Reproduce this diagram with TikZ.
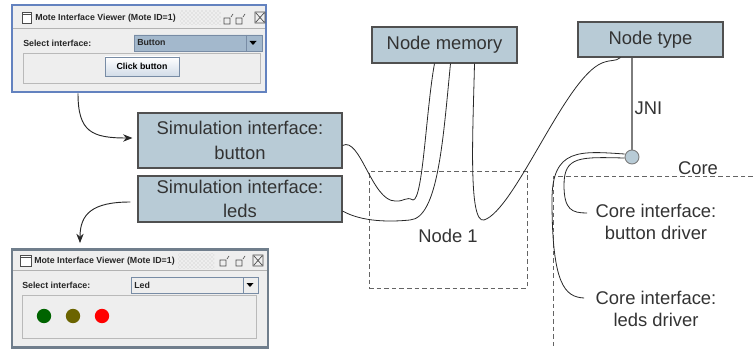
\documentclass[tikz,border=0pt]{standalone}
\usepackage{fontspec}
\setmainfont{Liberation Sans}
\usepackage{tikz}
\usetikzlibrary{positioning, calc, patterns, arrows.meta}

\definecolor{boxfill}{RGB}{184,203,214}
\definecolor{boxline}{RGB}{80,80,80}
\definecolor{labeltext}{RGB}{51,51,51}
\definecolor{wirecol}{RGB}{40,40,40}
\definecolor{dashcol}{RGB}{100,100,100}
\definecolor{jnicol}{RGB}{125,125,125}
\definecolor{winblue}{RGB}{99,130,191}
\definecolor{wingray}{RGB}{112,126,140}
\definecolor{winbg}{RGB}{238,238,238}
\definecolor{combofill}{RGB}{163,184,204}
\definecolor{comboline}{RGB}{120,140,165}
\definecolor{panelline}{RGB}{185,185,185}
\definecolor{btnbot}{RGB}{210,220,232}
\definecolor{ledgreen}{RGB}{0,100,0}
\definecolor{ledolive}{RGB}{107,100,0}
\definecolor{ledred}{RGB}{255,0,0}

\begin{document}
\begin{tikzpicture}[x=0.75pt, y=-0.75pt,
  box/.style={draw=boxline, fill=boxfill, line width=0.8pt, align=center, text=labeltext, inner sep=0pt, font=\fontsize{13.8}{18.5}\selectfont},
  lbl/.style={align=center, text=labeltext, inner sep=1pt, font=\fontsize{13.8}{16}\selectfont},
  wire/.style={draw=wirecol, line width=0.6pt},
  link/.style={draw=wirecol, line width=0.7pt, -{Stealth[length=7pt,width=5.5pt]}},
  region/.style={draw=dashcol, line width=0.75pt, dash pattern=on 3.5pt off 2.2pt},
  window/.style={line width=2.2pt, fill=winbg, inner sep=0pt},
  wintext/.style={font=\fontsize{6.6}{7}\selectfont\bfseries, text=black!85, inner sep=0pt, anchor=west},
  winicon/.style={draw=black!70, line width=0.5pt}]

\useasboundingbox (0,0) rectangle (753,349);

%// model side
\node[box, minimum width=153pt, minimum height=41.25pt] (simbtn) at (240,140.5) {Simulation interface:\\button};
\node[box, minimum width=153pt, minimum height=34.5pt] (simled) at (240,199) {Simulation interface:\\leds};
\node[box, minimum width=108.75pt, minimum height=27pt] (mem) at (444.5,45) {Node memory};
\node[box, minimum width=108.75pt, minimum height=26.25pt] (ntype) at (650.5,39.5) {Node type};

\node[region, minimum width=118.5pt, minimum height=87pt] (node1) at (448,230) {};
\node[lbl] (node1lbl) at (448,236) {Node 1};

%// core side
\coordinate (coreleft) at (553,177);
\draw[region] (753,177) -- (coreleft) -- (553,349);
\node[lbl] (corelbl) at (698,168) {Core};

\node[circle, draw=jnicol, fill=boxfill, minimum size=10.5pt, inner sep=0pt, line width=0.7pt] (jni) at (632,157) {};
\draw[jnicol, line width=1pt] (ntype.south -| jni) -- (jni);
\node[lbl, anchor=west] (jnilbl) at (633,108) {JNI};

\node[lbl] (bdrv) at (656,222) {Core interface:\\button driver};
\node[lbl] (ldrv) at (656,309) {Core interface:\\leds driver};

%// wires
\draw[wire] ($(simbtn.east)+(0,5)$) .. controls (360,136) and (372,201) .. (395,201)
  .. controls (404,202) and (406,196) .. (413,200)
  .. controls (423,200) and (426,110) .. ($(mem.south)+(-10,0)$);
\draw[wire] ($(simled.east)+(0,12)$) .. controls (362,222) and (390,222) .. (410,220)
  .. controls (438,218) and (443,140) .. ($(mem.south)+(6,0)$);
\draw[wire] ($(mem.south)+(30,0)$) .. controls (473,130) and (468,224) .. (484,220)
  .. controls (515,210) and (565,78) .. (602,63)
  .. controls (612,59) and (615,62) .. ($(ntype.south)+(-30,0)$);
\draw[wire] ($(jni.west)+(0,1)$) .. controls (580,157) and (564,156) .. (564,185)
  .. controls (564,210) and (572,213) .. ($(bdrv.west)+(-7,-9)$);
\draw[wire] ($(jni.west)+(0,-3)$) .. controls (580,151) and (552,148) .. (552,200)
  .. controls (552,285) and (565,297) .. ($(ldrv.west)+(-10,-11)$);

%// window with the button
\node[window, draw=winblue, minimum width=190.5pt, minimum height=65.25pt] (winA) at (139,48.5) {};
\draw[black!30, line width=0.5pt] (13,28.5) -- (265,28.5);
\draw[winicon, fill=white] (22,12) rectangle (31,23);
\draw[winicon] (22,14) -- (31,14);
\node[wintext] (titleA) at (35,18) {Mote Interface Viewer (Mote ID=1)};
\fill[pattern=crosshatch dots, pattern color=black!25] (180,11) rectangle (221,25);
\foreach \x in {224,236}
  \draw[winicon] (\x,18) rectangle (\x+6,24) (\x+7,17) -- (\x+9,14);
\draw[winicon] (255,12) rectangle (265,23) (256,13) -- (264,22) (264,13) -- (256,22);
\node[wintext] (selA) at (23,43) {Select interface:};
\draw[draw=comboline, fill=combofill, line width=0.6pt] (134,35) rectangle (262,51) (246,35) -- (246,51);
\fill[black] (249.5,41) -- (256.5,41) -- (253,45) -- cycle;
\node[wintext] (comboA) at (137,43) {Button};
\draw[panelline, line width=0.6pt] (23,53) rectangle (260,83);
\node[draw=comboline, top color=white, bottom color=btnbot, minimum width=55.5pt, minimum height=14.25pt, inner sep=0pt, font=\fontsize{6.6}{7}\selectfont\bfseries] (clickbtn) at (142,66.5) {Click button};

%// window with the leds
\node[window, draw=wingray, minimum width=192pt, minimum height=73.5pt] (winB) at (140,298.5) {};
\draw[black!30, line width=0.5pt] (13,270.5) -- (267,270.5);
\draw[winicon, fill=white] (20,255) rectangle (31,266);
\draw[winicon] (20,257) -- (31,257);
\node[wintext] (titleB) at (34,261) {Mote Interface Viewer (Mote ID=1)};
\fill[pattern=crosshatch dots, pattern color=black!25] (178,253) rectangle (214,268);
\foreach \x in {220,236}
  \draw[winicon] (\x,260) rectangle (\x+6,266) (\x+7,259) -- (\x+9,256);
\draw[winicon] (253,255) rectangle (263,266) (254,256) -- (262,265) (262,256) -- (254,265);
\node[wintext] (selB) at (22,285) {Select interface:};
\draw[draw=comboline, fill=winbg, line width=0.6pt] (131,277) rectangle (258,293) (243,277) -- (243,293);
\fill[black] (246.5,283) -- (253.5,283) -- (250,287) -- cycle;
\node[wintext] (comboB) at (134,285) {Led};
\draw[panelline, line width=0.6pt] (22,295) rectangle (256,338);
\foreach \x/\col in {44/ledgreen, 73/ledolive, 102/ledred}
  \fill[\col] (\x,316) circle (5.4pt);

%// links between windows and the model
\draw[link] ($(winA.south)+(-61,0)$) .. controls (78,132) and (92,138) .. ($(simbtn.west)+(-5,-2.5)$);
\draw[link] ($(simled.west)+(-7,3)$) .. controls (92,202) and (80,214) .. ($(winB.north)+(-60,-5)$);
\end{tikzpicture}
\end{document}
